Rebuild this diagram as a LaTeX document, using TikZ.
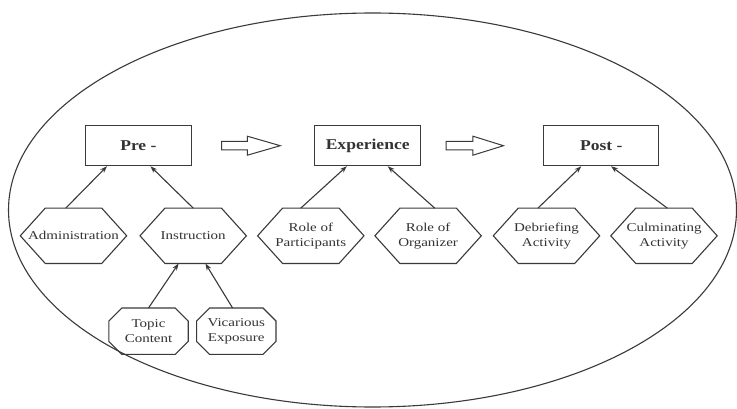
\documentclass[tikz,border=0pt]{standalone}
\usepackage{fontspec}
\setmainfont{Liberation Serif}
\newfontfamily\stagefont[FakeStretch=1.17]{Liberation Serif}
\newfontfamily\itemfont[FakeStretch=1.25]{Liberation Serif}
\usetikzlibrary{arrows.meta}

\definecolor{ink}{HTML}{3A3A3A}
\definecolor{txt}{HTML}{333333}

\tikzset{
  outline/.style={draw=ink, line width=1.1pt},
  stagebox/.style={outline, minimum height=40pt, inner sep=0pt,
    font=\stagefont\fontsize{15}{17}\selectfont\bfseries, text=txt},
  hexbox/.style={minimum width=106pt, minimum height=55pt, inner sep=0pt,
    align=center, font=\itemfont\fontsize{12}{15}\selectfont, text=txt},
  octbox/.style={minimum width=79pt, minimum height=46pt, inner sep=0pt,
    align=center, font=\itemfont\fontsize{12}{15.5}\selectfont, text=txt},
  feed/.style={draw=ink, line width=1.1pt, -{Stealth[length=7pt,width=5pt]}},
  blockarrow/.style={draw=ink, line width=1pt, fill=white, line join=miter},
}

% hexagon outline round a node: #1 node name, #2 horizontal cut
\newcommand\hexline[2]{%
  \draw[outline] (#1.west) -- ([xshift=#2]#1.north west)
    -- ([xshift=-#2]#1.north east) -- (#1.east)
    -- ([xshift=-#2]#1.south east) -- ([xshift=#2]#1.south west) -- cycle;}
% octagon outline round a node: #1 node name, #2 corner cut
\newcommand\octline[2]{%
  \draw[outline] ([yshift=-#2]#1.north west) -- ([xshift=#2]#1.north west)
    -- ([xshift=-#2]#1.north east) -- ([yshift=-#2]#1.north east)
    -- ([yshift=#2]#1.south east) -- ([xshift=-#2]#1.south east)
    -- ([xshift=#2]#1.south west) -- ([yshift=#2]#1.south west) -- cycle;}
% hollow block arrow: #1 start point, #2 shaft length, #3 head length
\newcommand\blockarrow[3]{%
  \draw[blockarrow] ([yshift=4.2pt]#1) -- ++(#2,0) -- ++(0,5.3pt)
    -- ++(#3,-9.5pt) -- ++(-#3,-9.5pt) -- ++(0,5.3pt) -- ++(-#2,0) -- cycle;}

\begin{document}
\begin{tikzpicture}[x=1pt,y=-1pt]
\useasboundingbox (0,0) rectangle (737,409);
\fill[white] (0,0) rectangle (737,409);

% surrounding ellipse
\draw[outline] (372.5,210) ellipse [x radius=364, y radius=197];

% the three stages
\node[stagebox, minimum width=106pt] (pre) at (138.4,145.7) {Pre -};
\node[stagebox, minimum width=106pt] (exp) at (367.7,145.7) {Experience};
\node[stagebox, minimum width=115pt] (post) at (601.3,145.7) {Post -};

% stage-to-stage block arrows
\coordinate (a1) at ([xshift=29.6pt]pre.east);
\coordinate (a2) at ([xshift=24.9pt]exp.east);
\blockarrow{a1}{25.8pt}{32.9pt}
\blockarrow{a2}{26.8pt}{30.5pt}

% contributing elements
\node[hexbox] (adm) at (73.5,235.8) {Administration};
\node[hexbox] (ins) at (193.2,235.8) {Instruction};
\node[hexbox] (par) at (310.8,235.8) {Role of\\Participants};
\node[hexbox] (org) at (428.1,235.8) {Role of\\Organizer};
\node[hexbox] (deb) at (546.5,235.8) {Debriefing\\Activity};
\node[hexbox] (cul) at (664.0,235.8) {Culminating\\Activity};
\foreach \n in {adm,ins,par,org,deb,cul} {\hexline{\n}{25pt}}

\node[octbox] (top) at (148.5,331.2) {Topic\\Content};
\node[octbox] (vic) at (236.3,331.2) {Vicarious\\Exposure};
\octline{top}{13pt}
\octline{vic}{13pt}

% feeding connectors
\draw[feed] ([xshift=-7.7pt]adm.north) -- ([xshift=-31.4pt]pre.south);
\draw[feed] (ins.north) -- ([xshift=12pt]pre.south);
\draw[feed] (top.north) -- ([xshift=-14.6pt]ins.south);
\draw[feed] ([xshift=-3.7pt]vic.north) -- ([xshift=12.2pt]ins.south);
\draw[feed] ([xshift=-10pt]par.north) -- ([xshift=-20.9pt]exp.south);
\draw[feed] ([xshift=6.6pt]org.north) -- ([xshift=20pt]exp.south);
\draw[feed] ([xshift=-8.5pt]deb.north) -- ([xshift=-20pt]post.south);
\draw[feed] ([xshift=3.3pt]cul.north) -- ([xshift=9.7pt]post.south);
\end{tikzpicture}
\end{document}
